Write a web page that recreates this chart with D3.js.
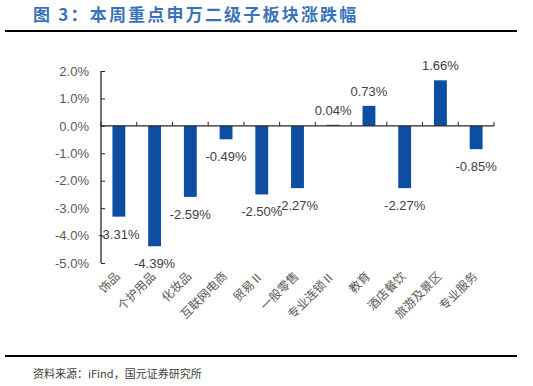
<!DOCTYPE html>
<html lang="zh">
<head>
<meta charset="utf-8">
<script src="https://d3js.org/d3.v7.min.js"></script>
<style>
  body { margin: 0; background: #fff; }
</style>
</head>
<body>
<script>
// data
var categories = ["饰品", "个护用品", "化妆品", "互联网电商", "贸易Ⅱ", "一般零售",
                  "专业连锁Ⅱ", "教育", "酒店餐饮", "旅游及景区", "专业服务"];
var changes = [-3.31, -4.39, -2.59, -0.49, -2.50, -2.27, 0.04, 0.73, -2.27, 1.66, -0.85];
var yTicks = [2, 1, 0, -1, -2, -3, -4, -5];

var width = 533, height = 386;
var svg = d3.select("body").append("svg")
    .attr("width", width)
    .attr("height", height);

var font = "'Liberation Sans', Arial, 'Noto Sans CJK SC', sans-serif";
var cjk = "'Noto Sans CJK SC', sans-serif";

// title
svg.append("text")
    .attr("x", 33).attr("y", 21)
    .attr("font-family", cjk)
    .attr("font-size", 17)
    .attr("font-weight", "bold")
    .attr("letter-spacing", 2.2)
    .attr("fill", "#3A72B8")
    .text("图 3：本周重点申万二级子板块涨跌幅");

svg.append("line")
    .attr("x1", 5).attr("x2", 517).attr("y1", 31).attr("y2", 31)
    .attr("stroke", "#000").attr("stroke-width", 2);

svg.append("line")
    .attr("x1", 5).attr("x2", 517).attr("y1", 356).attr("y2", 356)
    .attr("stroke", "#000").attr("stroke-width", 2);

svg.append("text")
    .attr("x", 33).attr("y", 378)
    .attr("font-family", cjk)
    .attr("font-size", 11)
    .attr("fill", "#404040")
    .text("资料来源：iFind，国元证券研究所");

var x = d3.scaleBand()
    .domain(categories)
    .range([101, 494])
    .paddingInner(0.64)
    .paddingOuter(0.32);

var y = d3.scaleLinear()
    .domain([-5, 2])
    .range([263, 71]);

// y axis
var yAxis = svg.append("g")
    .attr("transform", "translate(101,0)")
    .call(d3.axisLeft(y)
        .tickValues(yTicks)
        .tickSize(4)
        .tickPadding(8)
        .tickFormat(function(d) { return d.toFixed(1) + "%"; }));
yAxis.select(".domain").attr("stroke", "#262626").attr("stroke-width", 1.3).attr("d", "M0,71V263");
yAxis.selectAll(".tick line").attr("x1", 0).attr("x2", 4).attr("stroke", "#262626");
yAxis.selectAll("text")
    .attr("font-family", font)
    .attr("font-size", 13)
    .attr("fill", "#595959");

// bars
svg.selectAll("rect.bar")
    .data(changes)
    .enter().append("rect")
    .attr("class", "bar")
    .attr("x", function(d, i) { return x(categories[i]); })
    .attr("width", x.bandwidth())
    .attr("y", function(d) { return y(Math.max(0, d)); })
    .attr("height", function(d) { return Math.abs(y(d) - y(0)); })
    .attr("fill", "#0D4EA2");

// zero axis with tick marks between categories
var step = x.step();
var boundaries = d3.range(categories.length + 1).map(function(i) {
  return x.range()[0] + i * step;
});
svg.append("line")
    .attr("x1", 101).attr("x2", 494)
    .attr("y1", y(0)).attr("y2", y(0))
    .attr("stroke", "#262626").attr("stroke-width", 1.3);
svg.selectAll("line.xtick")
    .data(boundaries)
    .enter().append("line")
    .attr("class", "xtick")
    .attr("x1", function(d) { return d; })
    .attr("x2", function(d) { return d; })
    .attr("y1", y(0) - 4).attr("y2", y(0))
    .attr("stroke", "#262626");

// value labels
svg.selectAll("text.val")
    .data(changes)
    .enter().append("text")
    .attr("class", "val")
    .attr("x", function(d, i) { return x(categories[i]) + x.bandwidth() / 2; })
    .attr("y", function(d) { return d < 0 ? y(d) + 22 : y(d) - 10; })
    .attr("text-anchor", "middle")
    .attr("font-family", font)
    .attr("font-size", 13)
    .attr("fill", "#404040")
    .text(function(d) { return d.toFixed(2) + "%"; });

// category labels rotated
svg.selectAll("text.cat")
    .data(categories)
    .enter().append("text")
    .attr("class", "cat")
    .attr("transform", function(d) {
      return "translate(" + (x(d) + x.bandwidth() / 2 + 2) + ",277) rotate(-45)";
    })
    .attr("text-anchor", "end")
    .attr("font-family", cjk)
    .attr("font-size", 12)
    .attr("fill", "#595959")
    .text(function(d) { return d; });
</script>
</body>
</html>
